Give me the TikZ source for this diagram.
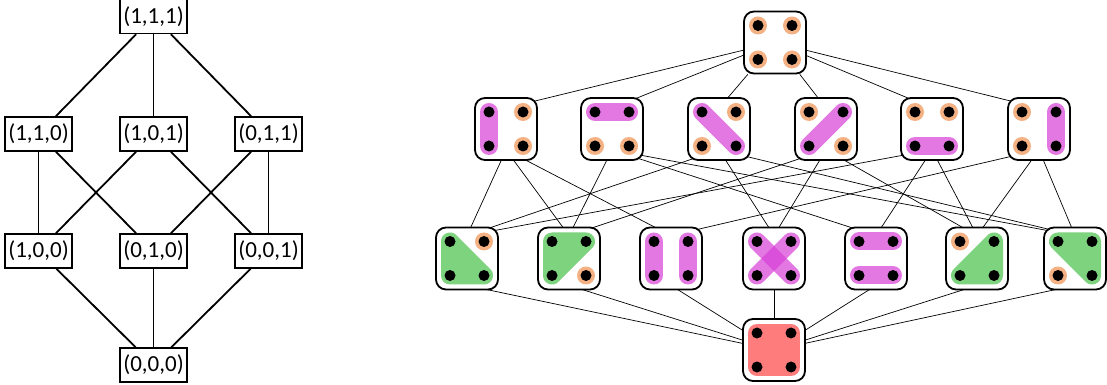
\documentclass[tikz,border=0pt]{standalone}
\usepackage{fontspec}
\setmainfont{Carlito}
\usetikzlibrary{backgrounds}
\definecolor{halocol}{RGB}{244,177,131}
\definecolor{pinkcol}{RGB}{216,64,216}
\definecolor{greencol}{RGB}{126,211,126}
\definecolor{redcol}{RGB}{255,124,124}
\tikzset{
  tuple/.style={draw, line width=1.5pt, font=\fontsize{23}{26}\selectfont, inner xsep=3.5pt, inner ysep=0pt, minimum height=34pt},
  cell/.style={draw, fill=white, line width=1.8pt, rounded corners=10pt, minimum size=62pt, inner sep=0pt},
  single/.style={fill=halocol},
  pairbar/.style={draw=pinkcol, line width=18pt, line cap=round, draw opacity=0.7},
  triple/.style={draw=greencol, fill=greencol, line width=18pt, line join=round},
  whole/.style={draw=redcol, fill=redcol, line width=18pt, line join=round},
  hasse/.style={line width=1.8pt},
  link/.style={line width=0.7pt}
}
% one partition of the four points p1 p2 / p3 p4
\newcommand{\partcell}[3]{%
  \node[cell] (#1) at (#2) {};
  \begin{scope}[shift={(#1.center)}]
    \coordinate (p1) at (-17,17); \coordinate (p2) at (17,17);
    \coordinate (p3) at (-17,-17); \coordinate (p4) at (17,-17);
    #3
    \foreach \p in {1,...,4} \fill (p\p) circle (5.5);
  \end{scope}}
\newcommand{\sing}[1]{\fill[single] (#1) circle (9);}
\newcommand{\pairof}[2]{\draw[pairbar] (#1) -- (#2);}
\newcommand{\tri}[3]{\filldraw[triple] (#1) -- (#2) -- (#3) -- cycle;}
\begin{document}
\begin{tikzpicture}[x=1pt,y=1pt]
\useasboundingbox (0,0) rectangle (1107,385);

% left lattice
\node[tuple] (n111) at (153.5,368.5) {(1,1,1)};
\node[tuple] (n110) at (38.5,251) {(1,1,0)};
\node[tuple] (n101) at (153.5,251) {(1,0,1)};
\node[tuple] (n011) at (268.5,251) {(0,1,1)};
\node[tuple] (n100) at (38.5,134) {(1,0,0)};
\node[tuple] (n010) at (153.5,134) {(0,1,0)};
\node[tuple] (n001) at (268.5,134) {(0,0,1)};
\node[tuple] (n000) at (153.5,20) {(0,0,0)};
\foreach \a/\b in {111/110,111/101,111/011,110/100,110/010,101/100,101/001,011/010,011/001,100/000,010/000,001/000}
  \draw[hasse] (n\a) -- (n\b);

% right lattice
\partcell{top}{775,342.5}{\sing{p1}\sing{p2}\sing{p3}\sing{p4}}

\partcell{s1}{506,256}{\pairof{p1}{p3}\sing{p2}\sing{p4}}
\partcell{s2}{612,256}{\pairof{p1}{p2}\sing{p3}\sing{p4}}
\partcell{s3}{719,256}{\pairof{p1}{p4}\sing{p2}\sing{p3}}
\partcell{s4}{826,256}{\pairof{p3}{p2}\sing{p1}\sing{p4}}
\partcell{s5}{932,256}{\pairof{p3}{p4}\sing{p1}\sing{p2}}
\partcell{s6}{1039,256}{\pairof{p2}{p4}\sing{p1}\sing{p3}}

\partcell{d1}{467,126.5}{\tri{p1}{p3}{p4}\sing{p2}}
\partcell{d2}{569,126.5}{\tri{p1}{p2}{p3}\sing{p4}}
\partcell{d3}{671,126.5}{\pairof{p1}{p3}\pairof{p2}{p4}}
\partcell{d4}{774,126.5}{\pairof{p1}{p4}\pairof{p3}{p2}}
\partcell{d5}{876,126.5}{\pairof{p1}{p2}\pairof{p3}{p4}}
\partcell{d6}{977,126.5}{\tri{p2}{p3}{p4}\sing{p1}}
\partcell{d7}{1075,126.5}{\tri{p1}{p2}{p4}\sing{p3}}

\partcell{bot}{774,35}{\filldraw[whole] (p1) -- (p2) -- (p4) -- (p3) -- cycle;}

\begin{scope}[on background layer]
\foreach \i in {1,...,6} \draw[link] (top) -- ([yshift=-11pt]s\i.north);
\foreach \i/\j in {1/1,1/2,1/3,2/2,2/5,2/7,3/1,3/4,3/7,4/2,4/4,4/6,5/1,5/5,5/6,6/3,6/6,6/7}
  \draw[link] ([yshift=11pt]s\i.south) -- ([yshift=-9pt]d\j.north);
\foreach \j in {1,...,7} \draw[link] ([yshift=5pt]d\j.south) -- (bot);
\end{scope}
\end{tikzpicture}
\end{document}
